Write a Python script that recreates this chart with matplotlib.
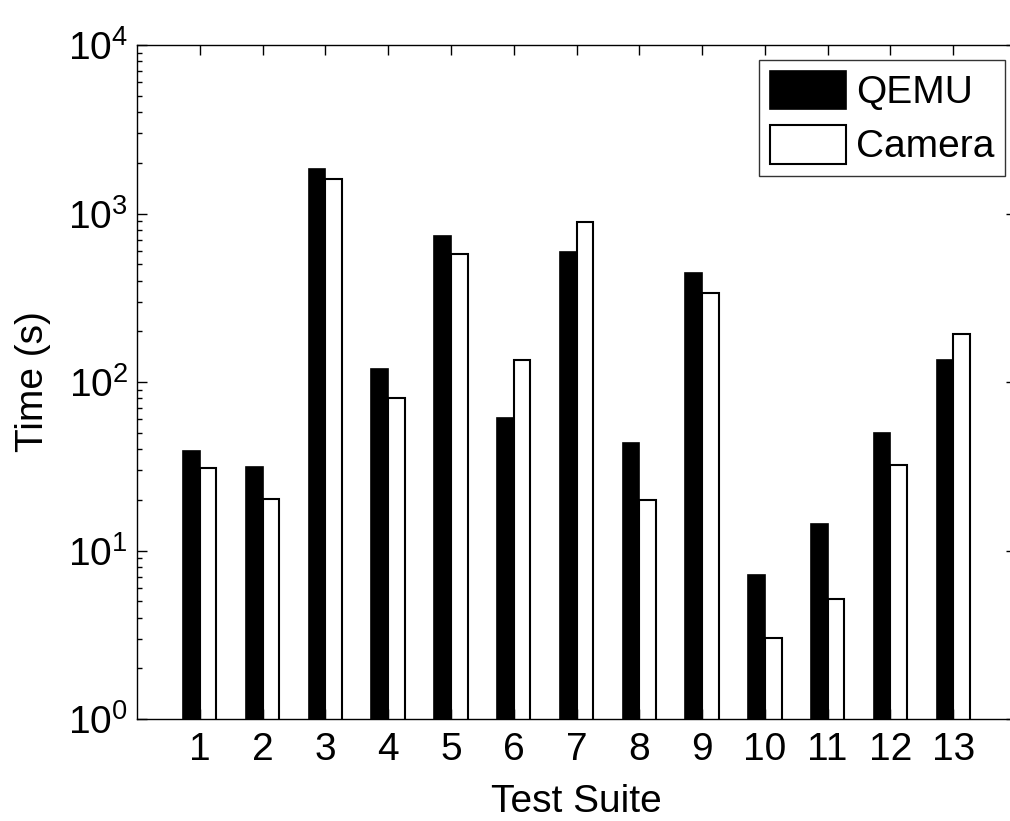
import numpy as np
import matplotlib
matplotlib.use("Agg")
import matplotlib.pyplot as plt

plt.rcParams['font.family'] = ['Liberation Sans', 'DejaVu Sans']
plt.rcParams['mathtext.fontset'] = 'custom'
plt.rcParams['mathtext.rm'] = 'Liberation Sans'
plt.rcParams['mathtext.it'] = 'Liberation Sans:italic'
plt.rcParams['mathtext.default'] = 'regular'

suites = list(range(1, 14))
qemu = [39, 31.4, 1837, 119, 738, 61, 593, 43.6, 445, 7.2, 14.4, 50, 136]
camera = [31, 20.2, 1596, 80.7, 572, 135, 894, 19.9, 336, 3.04, 5.15, 32.2, 194]

fs = 28
fig = plt.figure(figsize=(10.1, 8.21), dpi=100)
ax = fig.add_axes([0.1356, 0.1242, 1.006 - 0.1356, 0.9452 - 0.1242])

x = np.array(suites)
w = 0.265
ax.bar(x - w / 2, qemu, width=w, color='black', edgecolor='black', linewidth=1.2, label='QEMU')
ax.bar(x + w / 2, camera, width=w, color='white', edgecolor='black', linewidth=1.5, label='Camera')

ax.set_yscale('log')
ax.set_ylim(1, 1e4)
ax.set_xlim(0, 14)
ax.set_xticks(suites)
ax.set_xticklabels([str(s) for s in suites])

ax.tick_params(axis='both', which='major', direction='in', length=7.2, width=1,
               top=True, right=True, labelsize=fs, colors='black')
ax.tick_params(axis='y', which='minor', direction='in', length=3.6, width=1, right=True)
ax.tick_params(axis='x', which='major', pad=9)
ax.tick_params(axis='y', which='major', pad=6.5)
for sp in ax.spines.values():
    sp.set_linewidth(1.0)

ax.set_xlabel('Test Suite', fontsize=fs, labelpad=12)
ax.set_ylabel('Time (s)', fontsize=fs, labelpad=12)

leg = ax.legend(loc='upper right', bbox_to_anchor=(1005 / 1010, 1 - 60 / 821),
                bbox_transform=fig.transFigure, fontsize=fs, frameon=True,
                fancybox=False, borderaxespad=0, handlelength=1.95, handleheight=1.15,
                handletextpad=0.26, labelspacing=0.35, borderpad=0.28)
leg.get_frame().set_edgecolor('black')
leg.get_frame().set_linewidth(1.0)

fig.savefig('out.png', dpi=100)
